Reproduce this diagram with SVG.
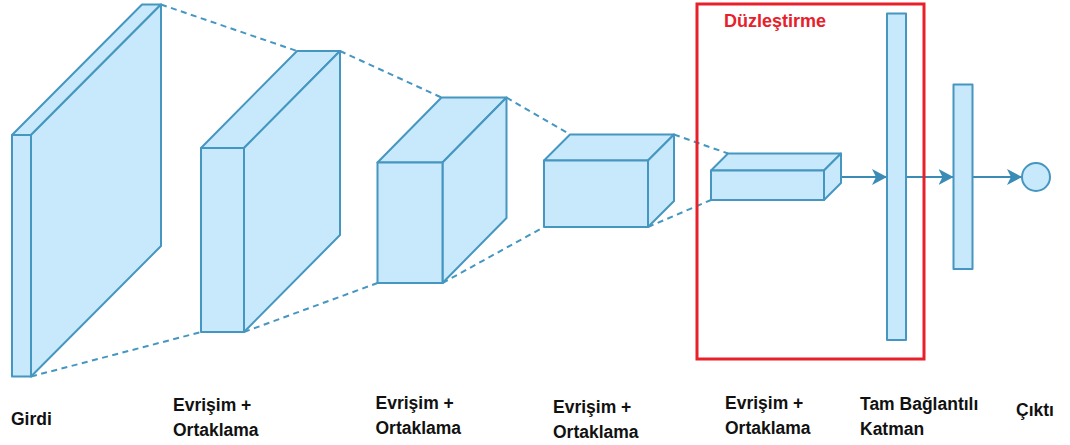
<svg xmlns="http://www.w3.org/2000/svg" width="1070" height="445" viewBox="0 0 1070 445">
<defs>
<style>
.box{fill:#C8E9FB;stroke:#4596C0;stroke-width:2;stroke-linejoin:round}
.dash{fill:none;stroke:#4596C0;stroke-width:2;stroke-dasharray:6 4.5}
.arr{fill:none;stroke:#3A8BB5;stroke-width:2;marker-end:url(#ah)}
.lbl{font-family:"Liberation Sans",Arial,sans-serif;font-weight:bold;font-size:17.5px;fill:#111}
.red{font-family:"Liberation Sans",Arial,sans-serif;font-weight:bold;font-size:18px;fill:#E8202A}
</style>
<marker id="ah" markerUnits="userSpaceOnUse" markerWidth="16" markerHeight="17" refX="15" refY="8" orient="auto">
<path d="M0,0 L15,8 L0,16 L4,8 z" fill="#3A8BB5"/>
</marker>
</defs>
<rect width="1070" height="445" fill="#fff"/>
<g id="connectors">
<line class="dash" x1="161" y1="4.5" x2="297" y2="51"/>
<line class="dash" x1="31" y1="376.5" x2="201" y2="332"/>
<line class="dash" x1="340" y1="51" x2="441.5" y2="97.5"/>
<line class="dash" x1="244" y1="332" x2="377.5" y2="283"/>
<line class="dash" x1="506.5" y1="97.5" x2="570" y2="134.5"/>
<line class="dash" x1="442.5" y1="283" x2="544" y2="227"/>
<line class="dash" x1="674" y1="134.5" x2="728" y2="153.5"/>
<line class="dash" x1="648" y1="227" x2="711" y2="200"/>
<line class="arr" x1="841" y1="177" x2="887" y2="177"/>
<line class="arr" x1="906" y1="177" x2="953.5" y2="177"/>
<line class="arr" x1="972.5" y1="177" x2="1022" y2="177"/>
</g>
<g id="flatten-frame">
<rect x="697" y="4" width="227" height="355" fill="none" stroke="#E8202A" stroke-width="3"/>
<text class="red" x="724" y="26.5">Düzleştirme</text>
</g>
<g id="input">
<polygon class="box" points="12,135 142,4.5 161,4.5 31,135"/>
<polygon class="box" points="31,135 161,4.5 161,246 31,376.5"/>
<rect class="box" x="12" y="135" width="19" height="241.5"/>
</g>
<g id="conv1">
<polygon class="box" points="201,148 297,51 340,51 244,148"/>
<polygon class="box" points="244,148 340,51 340,235 244,332"/>
<rect class="box" x="201" y="148" width="43" height="184"/>
</g>
<g id="conv2">
<polygon class="box" points="377.5,162.5 441.5,97.5 506.5,97.5 442.5,162.5"/>
<polygon class="box" points="442.5,162.5 506.5,97.5 506.5,218 442.5,283"/>
<rect class="box" x="377.5" y="162.5" width="65" height="120.5"/>
</g>
<g id="conv3">
<polygon class="box" points="544,160.5 570,134.5 674,134.5 648,160.5"/>
<polygon class="box" points="648,160.5 674,134.5 674,201 648,227"/>
<rect class="box" x="544" y="160.5" width="104" height="66.5"/>
</g>
<g id="conv4">
<polygon class="box" points="711,170.5 728,153.5 841,153.5 824,170.5"/>
<polygon class="box" points="824,170.5 841,153.5 841,183 824,200"/>
<rect class="box" x="711" y="170.5" width="113" height="29.5"/>
</g>
<g id="fc1">
<rect class="box" x="887" y="13.5" width="19" height="326.5"/>
</g>
<g id="fc2">
<rect class="box" x="953.5" y="84.5" width="19" height="184.5"/>
</g>
<g id="output">
<circle class="box" cx="1036" cy="177" r="14"/>
</g>
<g id="labels">
<text class="lbl" x="11" y="425">Girdi</text>
<text class="lbl" x="173" y="411">Evrişim +</text>
<text class="lbl" x="173" y="436">Ortaklama</text>
<text class="lbl" x="375.5" y="409">Evrişim +</text>
<text class="lbl" x="375.5" y="434">Ortaklama</text>
<text class="lbl" x="553" y="412.5">Evrişim +</text>
<text class="lbl" x="553" y="437.5">Ortaklama</text>
<text class="lbl" x="725" y="408.5">Evrişim +</text>
<text class="lbl" x="725" y="433.5">Ortaklama</text>
<text class="lbl" x="860" y="410">Tam Bağlantılı</text>
<text class="lbl" x="860" y="435">Katman</text>
<text class="lbl" x="1016" y="416">Çıktı</text>
</g>
</svg>
